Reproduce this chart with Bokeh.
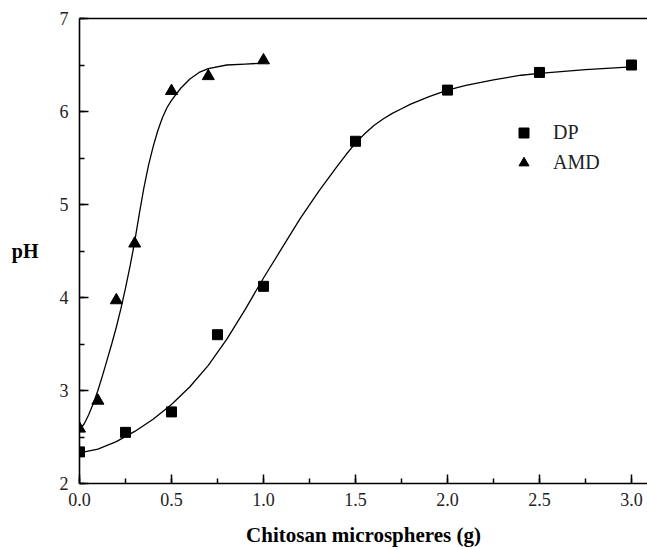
from bokeh.plotting import figure
from bokeh.models import (Range1d, LinearAxis, SingleIntervalTicker, NumeralTickFormatter,
                          FixedTicker, Legend, LegendItem)
from bokeh.embed import file_html
from bokeh.resources import INLINE

# Measured points
dp_x = [0.0, 0.25, 0.5, 0.75, 1.0, 1.5, 2.0, 2.5, 3.0]
dp_y = [2.34, 2.55, 2.77, 3.60, 4.12, 5.68, 6.23, 6.42, 6.50]
amd_x = [0.0, 0.1, 0.2, 0.3, 0.5, 0.7, 1.0]
amd_y = [2.59, 2.89, 3.97, 4.58, 6.22, 6.38, 6.55]

# Fitted curves
dp_fit_x = [0.0, 0.1, 0.2, 0.3, 0.4, 0.5, 0.6, 0.7, 0.8, 0.9, 1.0, 1.1, 1.2, 1.3, 1.4, 1.45,
            1.5, 1.55, 1.6, 1.65, 1.7, 1.75, 1.8, 1.85, 1.9, 2.0, 2.1, 2.25, 2.4, 2.5, 2.75, 3.0]
dp_fit_y = [2.33, 2.37, 2.45, 2.56, 2.69, 2.85, 3.04, 3.27, 3.55, 3.87, 4.21, 4.53, 4.85,
            5.14, 5.41, 5.54, 5.66, 5.76, 5.85, 5.92, 5.98, 6.03, 6.08, 6.12, 6.16, 6.23,
            6.28, 6.34, 6.39, 6.41, 6.45, 6.48]
amd_fit_x = [0.0, 0.025, 0.05, 0.075, 0.1, 0.125, 0.15, 0.175, 0.2, 0.225, 0.25, 0.275,
             0.3, 0.325, 0.35, 0.375, 0.4, 0.425, 0.45, 0.475, 0.5, 0.55, 0.6, 0.65, 0.7,
             0.8, 0.9, 1.0]
amd_fit_y = [2.58, 2.64, 2.74, 2.86, 3.0, 3.16, 3.33, 3.5, 3.68, 3.88, 4.1, 4.34, 4.6,
             4.9, 5.18, 5.42, 5.62, 5.79, 5.93, 6.04, 6.12, 6.25, 6.35, 6.42, 6.46, 6.5,
             6.51, 6.52]

x_label = "Chitosan microspheres (g)"
y_label = "pH"
series_names = ["DP", "AMD"]

SERIF = "Liberation Serif"

p = figure(width=647, height=549, x_range=Range1d(0, 3.087), y_range=Range1d(2, 7),
           output_backend="svg", toolbar_location=None,
           min_border_left=79, min_border_right=0, min_border_top=18, min_border_bottom=66)
p.grid.visible = False
p.outline_line_color = None
p.background_fill_color = "white"
p.border_fill_color = "white"

xa = p.xaxis[0]
xa.ticker = SingleIntervalTicker(interval=0.5, num_minor_ticks=2)
xa.formatter = NumeralTickFormatter(format="0.0")
ya = p.yaxis[0]
ya.ticker = SingleIntervalTicker(interval=1, num_minor_ticks=2)

for ax in (xa, ya):
    ax.axis_line_width = 1.6
    ax.axis_line_color = "black"
    ax.major_tick_in = 9
    ax.major_tick_out = 0
    ax.minor_tick_in = 5
    ax.minor_tick_out = 0
    ax.major_tick_line_width = 1.5
    ax.minor_tick_line_width = 1.5
    ax.major_tick_line_color = "black"
    ax.minor_tick_line_color = "black"
    ax.major_label_text_font = SERIF
    ax.major_label_text_font_size = "18px"
    ax.major_label_text_color = "#222222"
    ax.axis_label_text_font = SERIF
    ax.axis_label_text_font_style = "bold"
    ax.axis_label_text_color = "black"

xa.major_label_standoff = 9
xa.axis_label = x_label
xa.axis_label_text_font_size = "21px"
xa.axis_label_standoff = 14

ya.major_label_standoff = 11
ya.axis_label = y_label
ya.axis_label_text_font_size = "20px"
ya.axis_label_orientation = "horizontal"
ya.axis_label_standoff = 18

top = LinearAxis(ticker=FixedTicker(ticks=[], minor_ticks=[]), axis_line_width=1.6,
                 major_tick_line_color=None, minor_tick_line_color=None)
p.add_layout(top, "above")

dp_line = p.line(dp_fit_x, dp_fit_y, line_color="black", line_width=1.3)
amd_line = p.line(amd_fit_x, amd_fit_y, line_color="black", line_width=1.3)
sq = p.scatter(dp_x, dp_y, marker="square", size=10, color="black")
tri = p.scatter(amd_x, amd_y, marker="triangle", size=12, color="black")

legend = Legend(items=[LegendItem(label=series_names[0], renderers=[sq]),
                       LegendItem(label=series_names[1], renderers=[tri])],
                location=(432, 308), border_line_color=None, background_fill_alpha=0,
                label_text_font=SERIF, label_text_font_size="20px", label_text_color="#222222",
                glyph_width=25, glyph_height=25, spacing=5, label_standoff=17,
                padding=0, margin=0)
p.add_layout(legend, "center")

open("out.html", "w").write(file_html(p, INLINE))
